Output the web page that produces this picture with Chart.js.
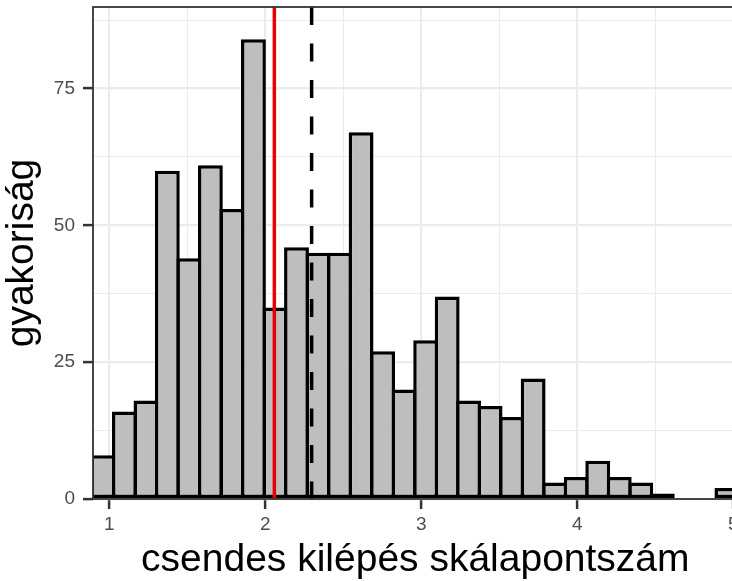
<!DOCTYPE html>
<html>
<head>
<meta charset="utf-8">
<script src="https://cdn.jsdelivr.net/npm/chart.js@4.4.1/dist/chart.umd.min.js"></script>
<style>
  html, body { margin: 0; padding: 0; background: #fff; overflow: hidden; }
  #wrap { position: absolute; left: 0; top: 0; width: 750px; height: 581px; }
</style>
</head>
<body>
<div id="wrap"><canvas id="hist" width="750" height="581"></canvas></div>
<script>
// ---------------------------------------------------------------------------
// Data
// ---------------------------------------------------------------------------
const binCenters = [0.959, 1.097, 1.235, 1.372, 1.510, 1.648, 1.786, 1.924, 2.062, 2.200,
                    2.338, 2.476, 2.614, 2.752, 2.890, 3.028, 3.166, 3.303, 3.441, 3.579,
                    3.717, 3.855, 3.993, 4.131, 4.269, 4.407, 4.545, 4.683, 4.821, 4.959];
const counts = [8, 16, 18, 60, 44, 61, 53, 84, 35, 46,
                45, 45, 67, 27, 20, 29, 37, 18, 17, 15,
                22, 3, 4, 7, 4, 3, 1, 0, 0, 2];
const medianValue = 2.058;  // red solid line
const meanValue = 2.297;    // black dashed line

const xGridValues = [1, 1.5, 2, 2.5, 3, 3.5, 4, 4.5, 5];
const yGridValues = [0, 12.5, 25, 37.5, 50, 62.5, 75, 87.5];
const xRange = [0.8955, 5.0276];
const yRange = [0, 89.9];

const xTitle = "csendes kilépés skálapontszám";
const yTitle = "gyakoriság";

// ---------------------------------------------------------------------------
// Chart
// ---------------------------------------------------------------------------
Chart.defaults.font.family = "'Liberation Sans', Arial, sans-serif";
Chart.defaults.animation = false;

const isMajorX = v => Math.abs(v - Math.round(v)) < 1e-6;
const isMajorY = v => Math.abs(v % 25) < 1e-6;

// ggplot-style panel border drawn over the bars
const panelBorder = {
  id: "panelBorder",
  afterDatasetsDraw(chart) {
    const { ctx, chartArea: a } = chart;
    ctx.save();
    ctx.strokeStyle = "#333333";
    ctx.lineWidth = 1.8;
    ctx.strokeRect(a.left, a.top, a.right - a.left, a.bottom - a.top);
    ctx.restore();
  }
};

function noScalePadding(s) {
  s.paddingTop = 0;
  s.paddingBottom = 0;
  s.paddingLeft = 0;
  s.paddingRight = 0;
}

new Chart(document.getElementById("hist"), {
  type: "bar",
  data: {
    datasets: [
      {
        type: "line",
        data: [{ x: medianValue, y: yRange[1] }, { x: medianValue, y: 0 }],
        borderColor: "#e60000",
        borderWidth: 3.5,
        pointRadius: 0,
        clip: 0,
        order: 0
      },
      {
        type: "line",
        data: [{ x: meanValue, y: yRange[1] }, { x: meanValue, y: 0 }],
        borderColor: "#000000",
        borderWidth: 3.5,
        borderDash: [18, 18.5],
        pointRadius: 0,
        clip: 0,
        order: 0
      },
      {
        type: "bar",
        data: binCenters.map((c, i) => ({ x: c, y: counts[i] })),
        backgroundColor: "#bebebe",
        borderColor: "#000000",
        borderWidth: 3.5,
        borderSkipped: false,
        barPercentage: 1.163,   // bars overlap so neighbouring outlines share one edge
        categoryPercentage: 1,
        grouped: false,
        clip: 0,
        order: 1
      }
    ]
  },
  options: {
    responsive: false,
    maintainAspectRatio: false,
    layout: { padding: { left: 0, right: 12.4, top: 7, bottom: 0 } },
    plugins: { legend: { display: false }, tooltip: { enabled: false } },
    scales: {
      x: {
        type: "linear",
        min: xRange[0],
        max: xRange[1],
        offset: false,
        afterBuildTicks: s => { s.ticks = xGridValues.map(v => ({ value: v })); },
        afterFit: s => { s.height = 82; noScalePadding(s); },
        border: { display: false },
        grid: {
          offset: false,
          color: "#ebebeb",
          lineWidth: c => (isMajorX(c.tick.value) ? 2.2 : 1.1),
          drawTicks: true,
          tickLength: 10,
          tickWidth: 2.5,
          tickColor: c => (isMajorX(c.tick.value) ? "#333333" : "rgba(0,0,0,0)")
        },
        ticks: {
          autoSkip: false,
          maxRotation: 0,
          padding: 4,
          color: "#4d4d4d",
          font: { size: 19 },
          callback: v => (isMajorX(v) ? String(Math.round(v)) : "")
        },
        title: {
          display: true,
          text: xTitle,
          color: "#000000",
          font: { size: 39, lineHeight: 1 },
          padding: { top: 0, bottom: 1.7 }
        }
      },
      y: {
        type: "linear",
        min: yRange[0],
        max: yRange[1],
        afterBuildTicks: s => { s.ticks = yGridValues.map(v => ({ value: v })); },
        afterFit: s => { s.width = 93; noScalePadding(s); },
        border: { display: false },
        grid: {
          color: "#ebebeb",
          lineWidth: c => (isMajorY(c.tick.value) ? 2.2 : 1.1),
          drawTicks: true,
          tickLength: 10,
          tickWidth: 2.5,
          tickColor: c => (isMajorY(c.tick.value) ? "#333333" : "rgba(0,0,0,0)")
        },
        ticks: {
          autoSkip: false,
          padding: 8,
          color: "#4d4d4d",
          font: { size: 19 },
          callback: v => (isMajorY(v) ? String(v) : "")
        },
        title: {
          display: true,
          text: yTitle,
          color: "#000000",
          font: { size: 39, lineHeight: 1 },
          padding: { top: 2.5, bottom: 0 }
        }
      }
    }
  },
  plugins: [panelBorder]
});
</script>
</body>
</html>
